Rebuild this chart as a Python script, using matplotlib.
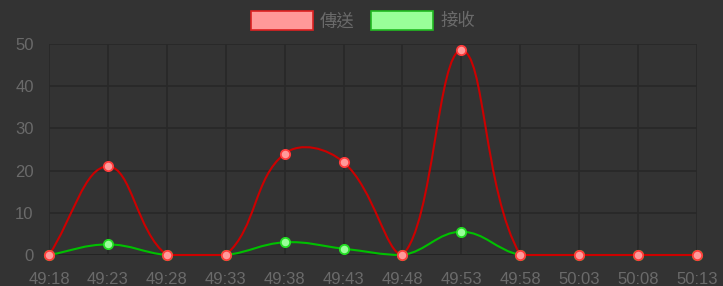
import numpy as np
import matplotlib.pyplot as plt
from matplotlib.path import Path
from matplotlib.patches import PathPatch, Rectangle

plt.rcParams['font.family'] = ['Liberation Sans', 'Noto Sans CJK TC', 'DejaVu Sans']

labels = ["49:18", "49:23", "49:28", "49:33", "49:38", "49:43",
          "49:48", "49:53", "49:58", "50:03", "50:08", "50:13"]
sent = [0, 21, 0, 0, 24, 22, 0, 48.5, 0, 0, 0, 0]
recv = [0, 2.5, 0, 0, 3, 1.5, 0, 5.5, 0, 0, 0, 0]

bg = "#333333"
W, H = 723, 286
fig = plt.figure(figsize=(W / 100, H / 100), dpi=100, facecolor=bg)
ax = fig.add_axes([49 / W, 31 / H, 648 / W, 211 / H], facecolor=bg)

ymax = 50
xs = np.arange(len(labels))
sx = 648 / (len(labels) - 1)   # px per x step
sy = 211 / ymax                # px per y unit


def spline_path(ys, tension=0.4):
    # bezier control points like Chart.js 1.x (done in pixel space)
    px = xs * sx
    py = np.array(ys, dtype=float) * sy
    n = len(px)
    inner, outer = [None] * n, [None] * n
    for i in range(n):
        p0 = (px[max(i - 1, 0)], py[max(i - 1, 0)])
        p2 = (px[min(i + 1, n - 1)], py[min(i + 1, n - 1)])
        c = (px[i], py[i])
        d01 = np.hypot(c[0] - p0[0], c[1] - p0[1])
        d12 = np.hypot(p2[0] - c[0], p2[1] - c[1])
        tot = d01 + d12
        fa = tension * d01 / tot if tot else 0
        fb = tension * d12 / tot if tot else 0
        ix, iy = c[0] - fa * (p2[0] - p0[0]), c[1] - fa * (p2[1] - p0[1])
        ox, oy = c[0] + fb * (p2[0] - p0[0]), c[1] + fb * (p2[1] - p0[1])
        iy = min(max(iy, 0), ymax * sy)
        oy = min(max(oy, 0), ymax * sy)
        inner[i] = (ix / sx, iy / sy)
        outer[i] = (ox / sx, oy / sy)
    verts = [(xs[0], ys[0])]
    codes = [Path.MOVETO]
    for i in range(1, n):
        verts += [outer[i - 1], inner[i], (xs[i], ys[i])]
        codes += [Path.CURVE4] * 3
    return Path(verts, codes)


ax.add_patch(PathPatch(spline_path(recv), fill=False, edgecolor="#00c000", lw=1.5, clip_on=False, zorder=3))
ax.add_patch(PathPatch(spline_path(sent), fill=False, edgecolor="#cc0000", lw=1.5, clip_on=False, zorder=4))
ax.scatter(xs, recv, s=45, facecolor="#99ff99", edgecolor="#22dd22", lw=1.3, clip_on=False, zorder=5)
ax.scatter(xs, sent, s=45, facecolor="#ff9a9a", edgecolor="#ff3b3b", lw=1.3, clip_on=False, zorder=6)

ax.set_xlim(0, len(labels) - 1)
ax.set_ylim(0, ymax)
ax.set_xticks(xs)
ax.set_xticklabels(labels)
ax.set_yticks(range(0, 51, 10))
ax.tick_params(length=0, colors="#6a6a6a", labelsize=12)
ax.tick_params(axis="y", pad=11)
ax.tick_params(axis="x", pad=12)
ax.grid(True, color="#282828", lw=1.2)
ax.axhline(0, color="#222222", lw=1.2, zorder=1)
ax.set_axisbelow(True)
for s in ax.spines.values():
    s.set_visible(False)

# legend
fig.add_artist(Rectangle((251 / W, 1 - 30 / H), 62 / W, 19 / H, transform=fig.transFigure,
                         facecolor="#ff9999", edgecolor="#dd2222", lw=1.2))
fig.text(320 / W, 1 - 21 / H, "傳送", color="#6a6a6a", fontsize=12.5, va="center")
fig.add_artist(Rectangle((371 / W, 1 - 30 / H), 62 / W, 19 / H, transform=fig.transFigure,
                         facecolor="#99ff99", edgecolor="#22bb22", lw=1.2))
fig.text(440 / W, 1 - 21 / H, "接收", color="#6a6a6a", fontsize=12.5, va="center")

fig.savefig("out.png", dpi=100, facecolor=bg)
